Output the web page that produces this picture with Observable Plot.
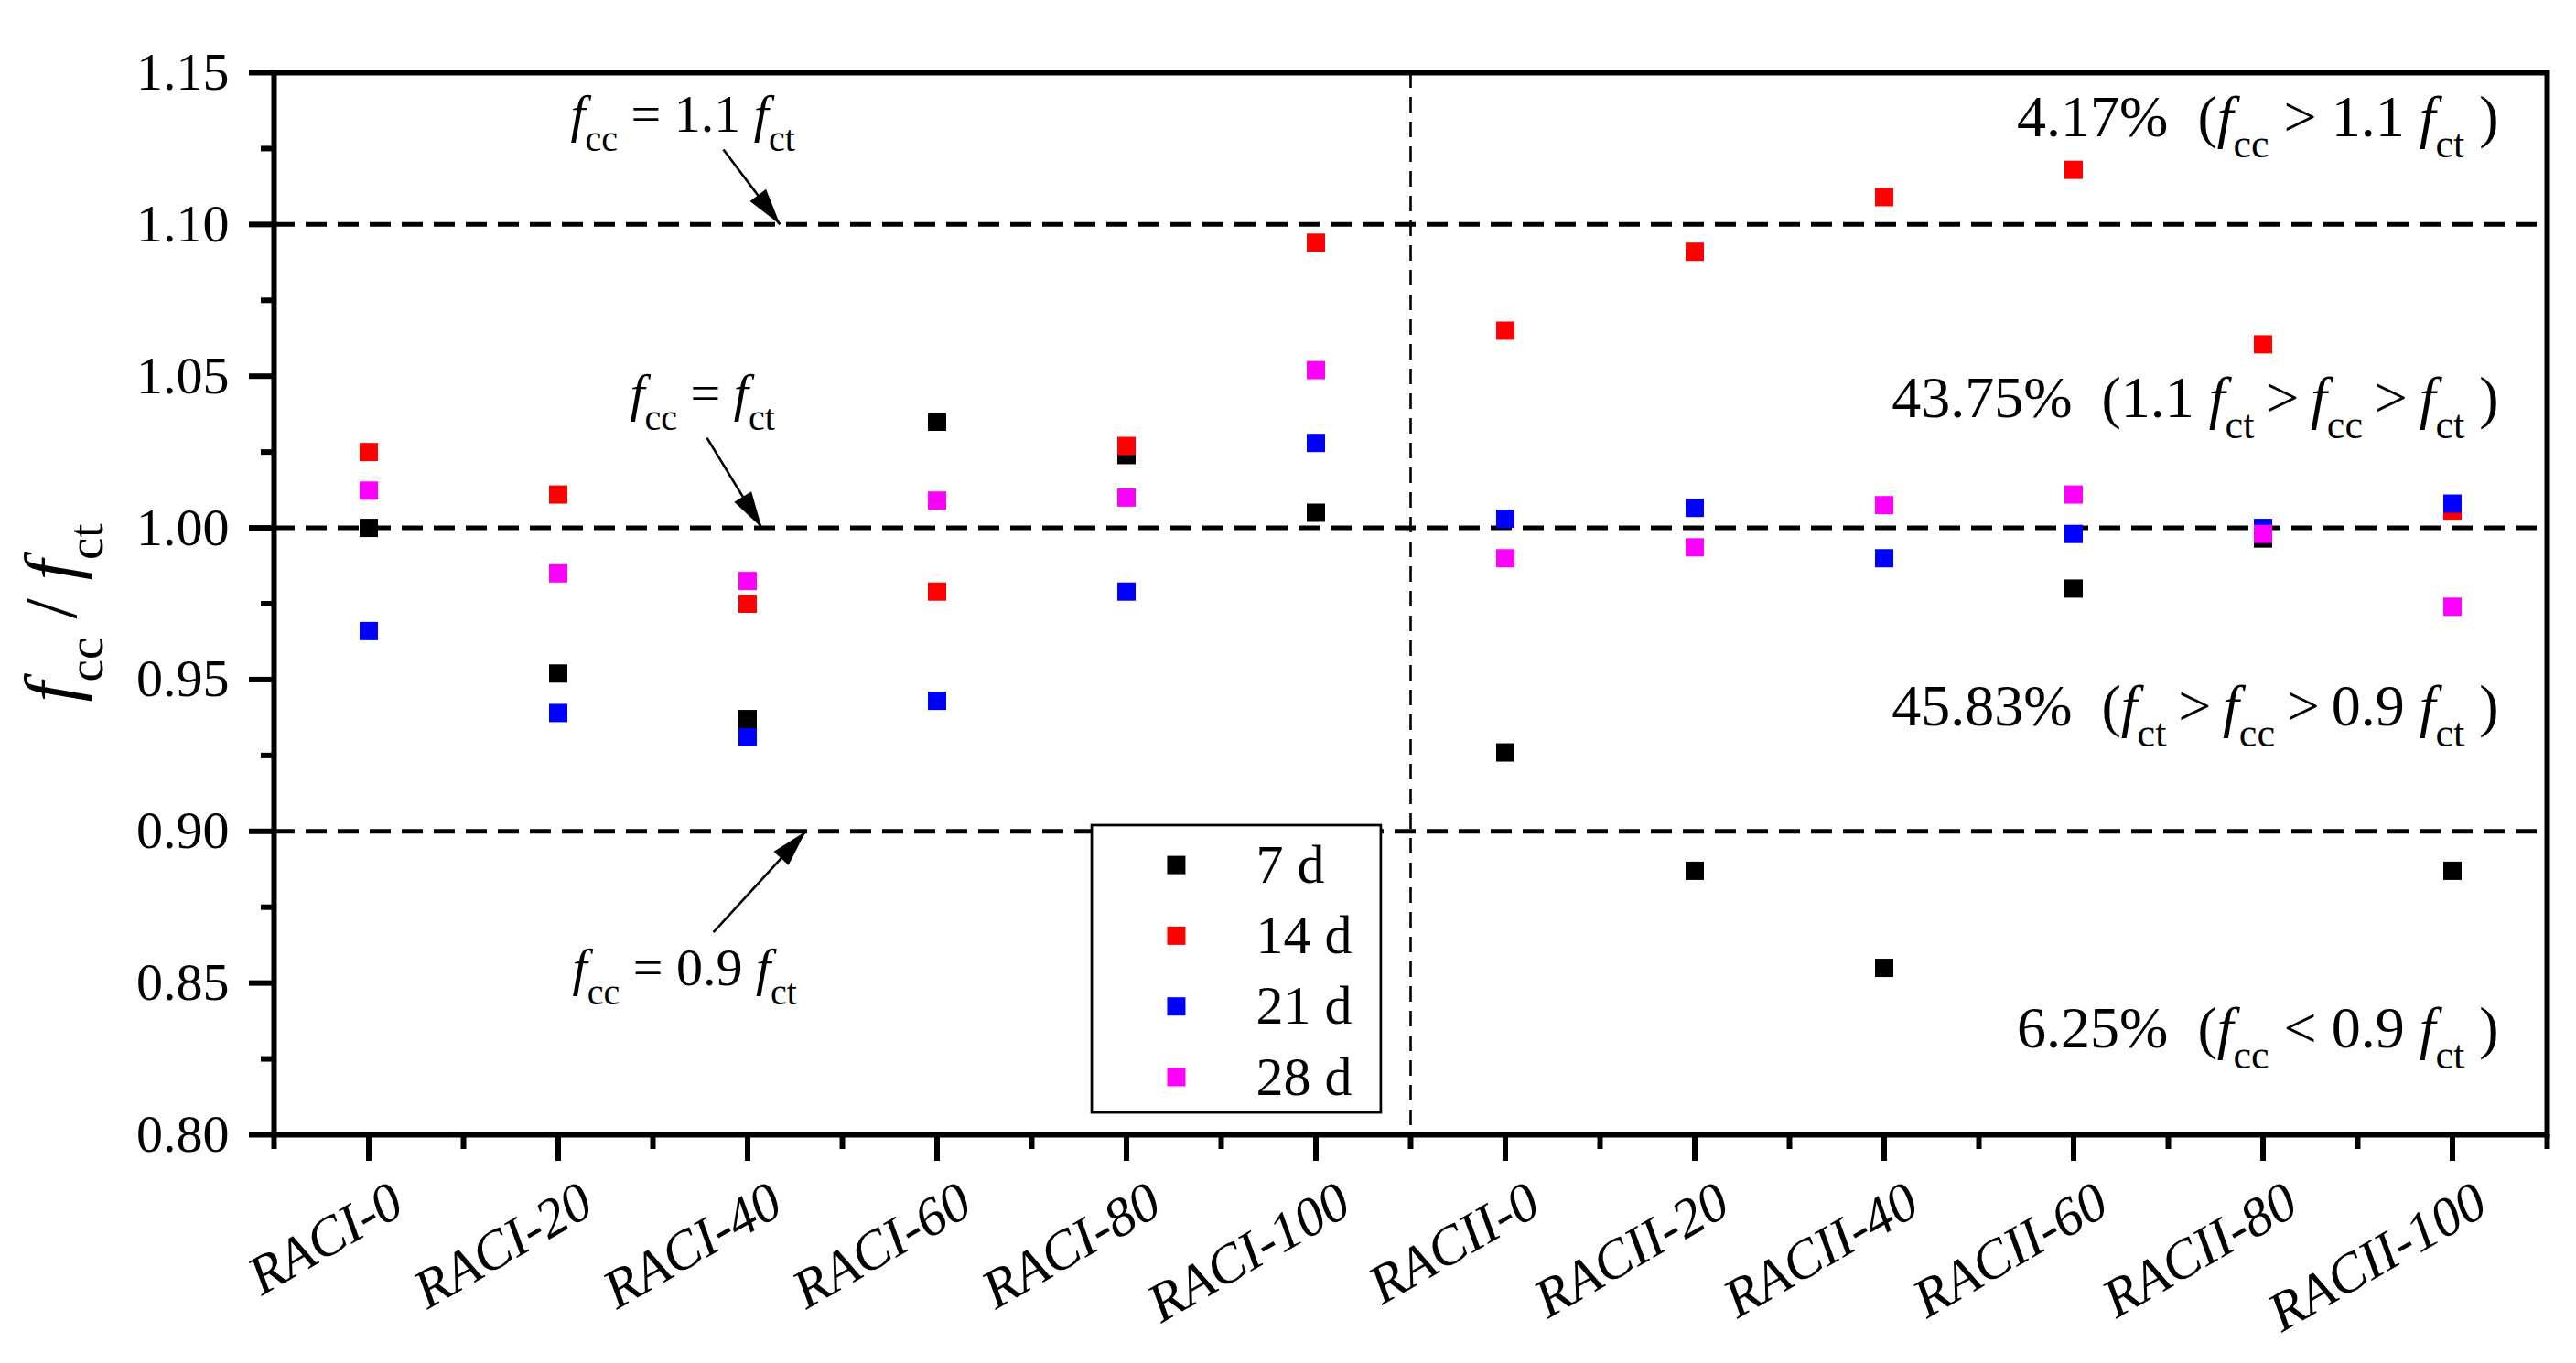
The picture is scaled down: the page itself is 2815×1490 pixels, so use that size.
<!DOCTYPE html>
<html>
<head>
<meta charset="utf-8">
<script src="https://cdn.jsdelivr.net/npm/d3@7"></script>
<script src="https://cdn.jsdelivr.net/npm/@observablehq/plot@0.6"></script>
<style>
  html, body { margin: 0; padding: 0; background: #ffffff; }
  svg { display: block; }
  svg text { font-family: "Liberation Serif", "Times New Roman", serif; }
</style>
</head>
<body>
<div id="chart"></div>
<script>
// ---------------- data ----------------
const categories = ["RACI-0", "RACI-20", "RACI-40", "RACI-60", "RACI-80", "RACI-100",
                    "RACII-0", "RACII-20", "RACII-40", "RACII-60", "RACII-80", "RACII-100"];
const seriesNames = ["7 d", "14 d", "21 d", "28 d"];
const seriesColors = ["#000000", "#ff0000", "#0000ff", "#ff00ff"];

const d7  = [1.000, 0.952, 0.937, 1.035, 1.024, 1.005, 0.926, 0.887, 0.855, 0.980, 0.9965, 0.887];
const d14 = [1.025, 1.011, 0.975, 0.979, 1.027, 1.094, 1.065, 1.091, 1.109, 1.118, 1.0605, 1.0057];
const d21 = [0.966, 0.939, 0.931, 0.943, 0.979, 1.028, 1.003, 1.0066, 0.990, 0.998, 1.000, 1.008];
const d28 = [1.0123, 0.985, 0.9825, 1.009, 1.010, 1.052, 0.990, 0.9936, 1.0075, 1.011, 0.998, 0.974];

const yMajorTicks = [0.80, 0.85, 0.90, 0.95, 1.00, 1.05, 1.10, 1.15];
const yMinorTicks = [0.825, 0.875, 0.925, 0.975, 1.025, 1.075, 1.125];
const thresholds = [1.10, 1.00, 0.90];

const yTitle = "f{cc} / f{ct}";
const leftNotes = ["f{cc} = 1.1 f{ct}", "f{cc} = f{ct}", "f{cc} = 0.9 f{ct}"];
const rightNotes = [
  "4.17%  (f{cc} > 1.1 f{ct} )",
  "43.75%  (1.1 f{ct}\u2009>\u2009f{cc}\u2009>\u2009f{ct} )",
  "45.83%  (f{ct}\u2009>\u2009f{cc}\u2009>\u20090.9 f{ct} )",
  "6.25%  (f{cc} < 0.9 f{ct} )"
];

// ---------------- layout (positions in data units) ----------------
const leftNotePos = [[1.065, 1.1307], [1.379, 1.0385], [1.075, 0.8494]];
const rightNoteX = 11.244;
const rightNoteY = [1.1289, 1.0364, 0.9349, 0.8289];
const arrows = [
  {x1: 1.872, y1: 1.1247, x2: 2.171, y2: 1.10},
  {x1: 1.785, y1: 1.0297, x2: 2.075, y2: 1.00},
  {x1: 1.819, y1: 0.8667, x2: 2.307, y2: 0.90}
];
const legendBox = {x1: 3.819, x2: 5.345, y1: 0.8072, y2: 0.9019};
const legendMarkX = 4.263, legendTextX = 4.684, legendY0 = 0.8889, legendStep = 0.0233;

// ---------------- derived ----------------
const FONT = "Liberation Serif";
const seriesValues = [d7, d14, d21, d28];
const points = seriesNames.flatMap((s, k) => seriesValues[k].map((v, i) => ({series: s, i, v})));
const majorX = categories.map((d, i) => i);
const minorX = d3.range(categories.length + 1).map(i => i - 0.5);
const divider = categories.length / 2 - 0.5;

const plot = Plot.plot({
  width: 2815,
  height: 1490,
  marginLeft: 299,
  marginRight: 32,
  marginTop: 79,
  marginBottom: 250,
  style: {fontFamily: FONT, background: "#ffffff", color: "#000000"},
  x: {type: "linear", domain: [-0.5, categories.length - 0.5], label: null},
  y: {domain: [0.80, 1.15], label: null},
  color: {domain: seriesNames, range: seriesColors},
  marks: [
    Plot.ruleY(thresholds, {stroke: "black", strokeWidth: 5, strokeDasharray: "23,12"}),
    Plot.ruleX([divider], {stroke: "black", strokeWidth: 2.6, strokeDasharray: "17,10"}),
    Plot.dot(points, {x: "i", y: "v", fill: "series", symbol: "square", r: 11.28}),
    Plot.link(arrows, {x1: "x1", y1: "y1", x2: "x2", y2: "y2", stroke: "black", strokeWidth: 2.6}),
    Plot.text(leftNotes, {x: (d, i) => leftNotePos[i][0], y: (d, i) => leftNotePos[i][1], text: d => d,
      textAnchor: "start", lineAnchor: "bottom", fontSize: 58, fontFamily: FONT, fill: "black"}),
    Plot.text(rightNotes, {x: rightNoteX, y: (d, i) => rightNoteY[i], text: d => d,
      textAnchor: "end", lineAnchor: "bottom", fontSize: 64, fontFamily: FONT, fill: "black"}),
    // legend
    Plot.rect([legendBox], {x1: "x1", x2: "x2", y1: "y1", y2: "y2", fill: "white", stroke: "black", strokeWidth: 2.7}),
    Plot.dot(seriesNames, {x: legendMarkX, y: (d, i) => legendY0 - i * legendStep, fill: d => d, symbol: "square", r: 11.28}),
    Plot.text(seriesNames, {x: legendTextX, y: (d, i) => legendY0 - i * legendStep, text: d => d,
      textAnchor: "start", lineAnchor: "middle", fontSize: 60, fontFamily: FONT, fill: "black"}),
    // axes
    Plot.axisY(yMajorTicks, {tickSize: 27, tickPadding: 22, strokeWidth: 6, tickFormat: d3.format(".2f"),
      fontSize: 58, fontFamily: FONT, fontVariant: "normal", label: null}),
    Plot.axisY(yMinorTicks, {tickSize: 14, strokeWidth: 6, tickFormat: () => "", label: null}),
    Plot.axisX(majorX, {tickSize: 29, strokeWidth: 6, tickFormat: () => "", label: null}),
    Plot.axisX(minorX, {tickSize: 16, strokeWidth: 6, tickFormat: () => "", label: null}),
    Plot.text(categories, {x: (d, i) => i, frameAnchor: "bottom", text: d => d, rotate: -30,
      textAnchor: "end", lineAnchor: "middle", dx: 32, dy: 68, fontSize: 60, fontStyle: "italic",
      fontFamily: FONT, fill: "black"}),
    Plot.text([yTitle], {frameAnchor: "left", text: d => d, dx: -217, dy: 10, rotate: -90,
      textAnchor: "middle", lineAnchor: "bottom", fontSize: 80, fontFamily: FONT, fill: "black"}),
    Plot.frame({stroke: "black", strokeWidth: 6})
  ]
});

const svg = plot.tagName && plot.tagName.toLowerCase() === "svg" ? plot : plot.querySelector("svg");
document.getElementById("chart").appendChild(plot);

// rich text: f{xx} -> italic f with subscript xx
function fontSizeOf(node) {
  let n = node;
  while (n && n !== svg) {
    const fs = n.getAttribute && n.getAttribute("font-size");
    if (fs) return parseFloat(fs);
    n = n.parentNode;
  }
  return 60;
}
d3.select(svg).selectAll("text").each(function () {
  const s = this.textContent;
  if (!/f\{\w+\}/.test(s)) return;
  const fs = fontSizeOf(this);
  const subSize = Math.round(fs * 0.69);
  const shift = Math.round(fs * 0.36);
  const el = d3.select(this);
  el.text(null);
  const re = /f\{(\w+)\}/g;
  let last = 0, m, pending = 0;
  const add = (txt) => {
    const t = el.append("tspan").text(txt.replace(/ /g, "\u00A0"));
    if (pending) { t.attr("dy", pending); pending = 0; }
    return t;
  };
  while ((m = re.exec(s))) {
    if (m.index > last) add(s.slice(last, m.index));
    add("f").attr("font-style", "italic");
    const sub = el.append("tspan").text(m[1]).attr("font-size", subSize).attr("font-style", "normal");
    sub.attr("dy", pending + shift);
    pending = -shift;
    last = re.lastIndex;
  }
  if (last < s.length) add(s.slice(last));
});

// filled arrowheads
const defs = d3.select(svg).insert("defs", ":first-child");
defs.append("marker")
  .attr("id", "arrowhead-fill")
  .attr("markerUnits", "userSpaceOnUse")
  .attr("viewBox", "-44 -13 46 26")
  .attr("markerWidth", 46)
  .attr("markerHeight", 26)
  .attr("refX", 0)
  .attr("refY", 0)
  .attr("orient", "auto")
  .append("path")
  .attr("d", "M0,0L-40,-11L-40,11Z")
  .attr("fill", "black");
d3.select(svg).selectAll('g[aria-label="link"] path').attr("marker-end", "url(#arrowhead-fill)");
</script>
</body>
</html>
